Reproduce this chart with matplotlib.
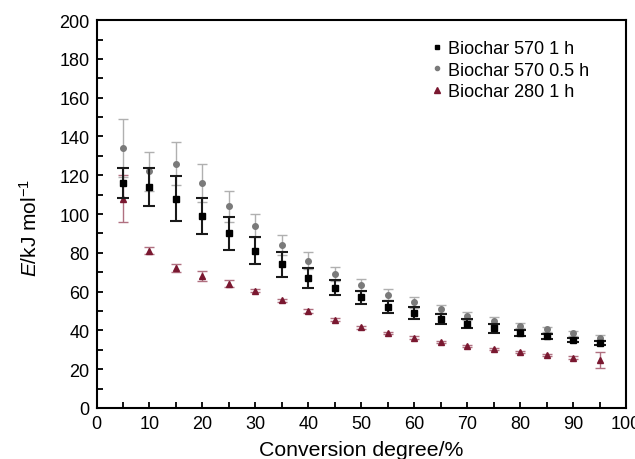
import matplotlib
matplotlib.use("Agg")
import matplotlib.pyplot as plt
from matplotlib.ticker import MultipleLocator

plt.rcParams["font.family"] = ["Liberation Sans", "DejaVu Sans"]
plt.rcParams["mathtext.fontset"] = "custom"
plt.rcParams["mathtext.rm"] = "Liberation Sans"
plt.rcParams["mathtext.it"] = "Liberation Sans:italic"

# 转化率 (%)
conversion = [5, 10, 15, 20, 25, 30, 35, 40, 45, 50, 55, 60, 65, 70, 75, 80, 85, 90, 95]

# Biochar 570 1 h
e_570_1h = [116, 114, 108, 99, 90, 81, 74, 67, 62, 57, 52, 49, 46, 43.5, 41, 38.5, 37, 35, 33.3]
err_570_1h = [7.5, 10, 11.5, 9.5, 8.5, 7, 6.5, 5, 4, 3.5, 3.2, 3, 2.5, 2.3, 2.2, 1.5, 1.3, 1.2, 1]

# Biochar 570 0.5 h
e_570_05h = [134, 122, 126, 116, 104, 94, 84, 76, 69, 63.5, 58.5, 54.5, 51, 47.5, 45, 42.5, 40.5, 38.5, 36.3]
err_570_05h = [15, 10, 11, 10, 8, 6, 5, 4.5, 3.5, 3.2, 3, 2.8, 2.2, 2, 1.8, 1.5, 1.4, 1.2, 1.2]

# Biochar 280 1 h
e_280_1h = [108, 81, 72, 68, 64, 60.5, 55.5, 50, 45.5, 41.5, 38.5, 36.3, 34, 32, 30.3, 28.8, 27.3, 26, 24.8]
err_280_1h = [12, 1.8, 2, 2.5, 1.8, 0.8, 0.8, 0.8, 0.8, 0.6, 0.6, 0.6, 0.6, 0.6, 0.6, 0.6, 0.6, 0.6, 4.3]

fig = plt.figure(figsize=(6.35, 4.6), dpi=100)
ax = fig.add_axes([0.152, 0.111, 0.834, 0.843])

ax.errorbar(conversion, e_570_05h, yerr=err_570_05h, fmt="o", color="#7a7a7a",
            ecolor="#b0b0b0", elinewidth=1.0, capsize=3.5, capthick=1.0, markersize=4,
            label="Biochar 570 0.5 h", zorder=2)
ax.errorbar(conversion, e_280_1h, yerr=err_280_1h, fmt="^", color="#7a1830",
            ecolor="#b07080", elinewidth=1.0, capsize=3.5, capthick=1.0, markersize=5,
            label="Biochar 280 1 h", zorder=3)
ax.errorbar(conversion, e_570_1h, yerr=err_570_1h, fmt="s", color="black",
            ecolor="#1a1a1a", elinewidth=1.5, capsize=4, capthick=1.5, markersize=4,
            label="Biochar 570 1 h", zorder=4)

ax.set_xlim(0, 100)
ax.set_ylim(0, 200)
ax.xaxis.set_major_locator(MultipleLocator(10))
ax.xaxis.set_minor_locator(MultipleLocator(5))
ax.yaxis.set_major_locator(MultipleLocator(20))
ax.yaxis.set_minor_locator(MultipleLocator(10))
ax.tick_params(which="both", direction="in", length=4, width=1.3, labelsize=13, pad=5)
ax.tick_params(axis="x", which="both", top=False)
ax.tick_params(axis="y", which="both", right=False)
for s in ax.spines.values():
    s.set_linewidth(1.5)

ax.set_xlabel("Conversion degree/%", fontsize=15.3, labelpad=5.5)
ax.set_ylabel(r"$E$/kJ mol$^{-1}$", fontsize=15)
ax.yaxis.set_label_coords(-0.106, 0.466)

handles, labels = ax.get_legend_handles_labels()
order = [2, 0, 1]
ax.legend([handles[i][0] for i in order], [labels[i] for i in order],
          loc="upper right", bbox_to_anchor=(0.96, 0.99), frameon=False,
          fontsize=13, handletextpad=0.1, handlelength=1.0, markerscale=0.75,
          labelspacing=0.25)

fig.savefig("out.png", dpi=100)
